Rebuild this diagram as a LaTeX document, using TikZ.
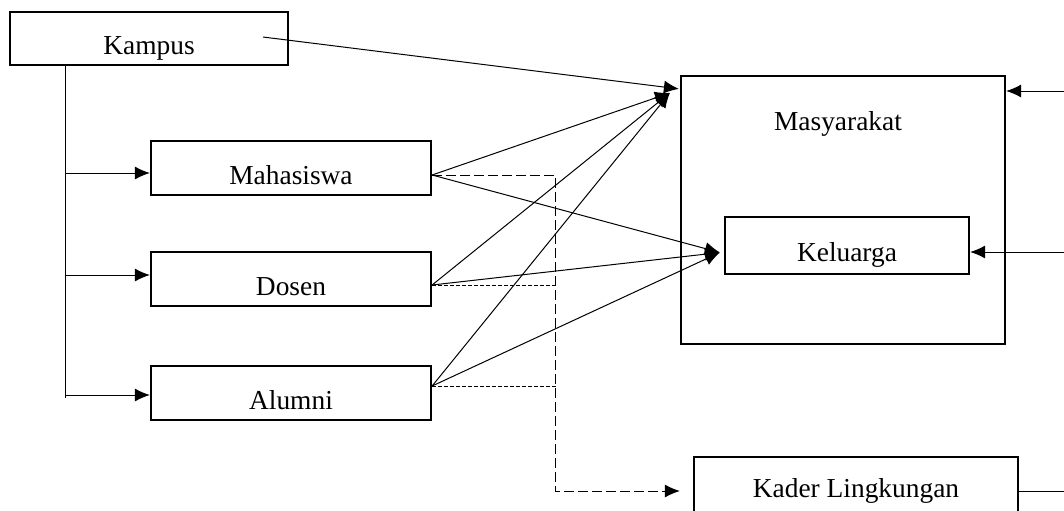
\documentclass[tikz,border=0pt]{standalone}
\usepackage{fontspec}
\setmainfont{Liberation Serif}
\usetikzlibrary{
    arrows.meta,
    calc,
    positioning
}
\tikzset{
    teks/.style={font=\fontsize{13.7}{16}\selectfont},
    blok/.style={teks, draw, line width=1.1pt, inner sep=0pt},
    turun/.style={text height=19pt, text depth=3pt},
    garis/.style={line width=0.5pt},
    ujungpanah/.style={-{Latex[length=7.5pt,width=6.5pt]}},
    panah/.style={garis, ujungpanah},
    putus/.style={garis, dash pattern=on 5pt off 2pt},
    titik/.style={garis, dash pattern=on 2pt off 1pt}
}

\begin{document}
\begin{tikzpicture}[x=0.5pt, y=-0.5pt]
    \useasboundingbox (0,0) rectangle (1064,510);
    % kampus dan cabangnya
    \node[blok, turun, minimum width=139pt, minimum height=26.5pt] (kampus) at (149,38.5) {Kampus};
    \node[blok, turun, minimum width=140pt, minimum height=27pt] (mhs) at (291,168) {Mahasiswa};
    \node[blok, turun, minimum width=140pt, minimum height=27pt] (dosen) at (291,279) {Dosen};
    \node[blok, turun, minimum width=140pt, minimum height=27pt] (alumni) at (291,393) {Alumni};
    % sasaran
    \node[blok, minimum width=162pt, minimum height=134pt] (masy) at (843,210) {};
    \node[teks] (masyteks) at (838,124) {Masyarakat};
    \node[blok, turun, minimum width=122pt, minimum height=28.5pt] (kel) at (847,245.5) {Keluarga};
    \node[blok, minimum width=162pt, minimum height=34pt] (kader) at (856,491) {Kader Lingkungan};

    \coordinate (batang) at (65,65);
    \coordinate (ujung) at (65,398);
    \coordinate (kampusOut) at (263,37);
    \coordinate (masyIn) at ($(masy.north west)+(-1,14)$);
    \coordinate (masyIn2) at ($(masy.north west)+(-10,18)$);
    \coordinate (kelIn) at ($(kel.west)+(-4,7)$);
    \coordinate (mhsOut) at ($(mhs.east)+(0,7)$);
    \coordinate (dosenOut) at ($(dosen.east)+(0,6)$);
    \coordinate (alumniOut) at ($(alumni.east)+(0,-7)$);
    \coordinate (simpang) at (555,175);
    \coordinate (luarA) at (1064,91);
    \coordinate (luarB) at (1064,252);
    \coordinate (luarC) at (1064,491);

    \draw[garis] (batang) -- (ujung);
    \draw[panah] ($(batang |- mhs.west)+(0,5)$) -- ($(mhs.west)+(0,5)$);
    \draw[panah] ($(batang |- dosen.west)+(0,-4)$) -- ($(dosen.west)+(0,-4)$);
    \draw[panah] ($(ujung)+(0,-3)$) -- ($(alumni.west)+(0,2)$);

    \draw[panah] (kampusOut) -- (masyIn);
    \draw[panah] (mhsOut) -- (masyIn2);
    \draw[panah] (mhsOut) -- (kelIn);
    \draw[panah] (dosenOut) -- (masyIn2);
    \draw[panah] (dosenOut) -- (kelIn);
    \draw[panah] (alumniOut) -- (masyIn2);
    \draw[panah] (alumniOut) -- (kelIn);

    % garis putus-putus ke kader
    \draw[putus, ujungpanah] (mhsOut) -- (simpang) -- (simpang |- kader.west) -- ($(kader.west)+(-13,0)$);
    \draw[titik] (dosenOut) -- ($(dosenOut -| simpang)+(2,0)$);
    \draw[titik] (alumniOut) -- ($(alumniOut -| simpang)+(3,0)$);

    \draw[panah] (luarA) -- (luarA -| masy.east);
    \draw[panah] (luarB) -- (luarB -| kel.east);
    \draw[garis] (kader.east) -- (luarC);
\end{tikzpicture}
\end{document}
